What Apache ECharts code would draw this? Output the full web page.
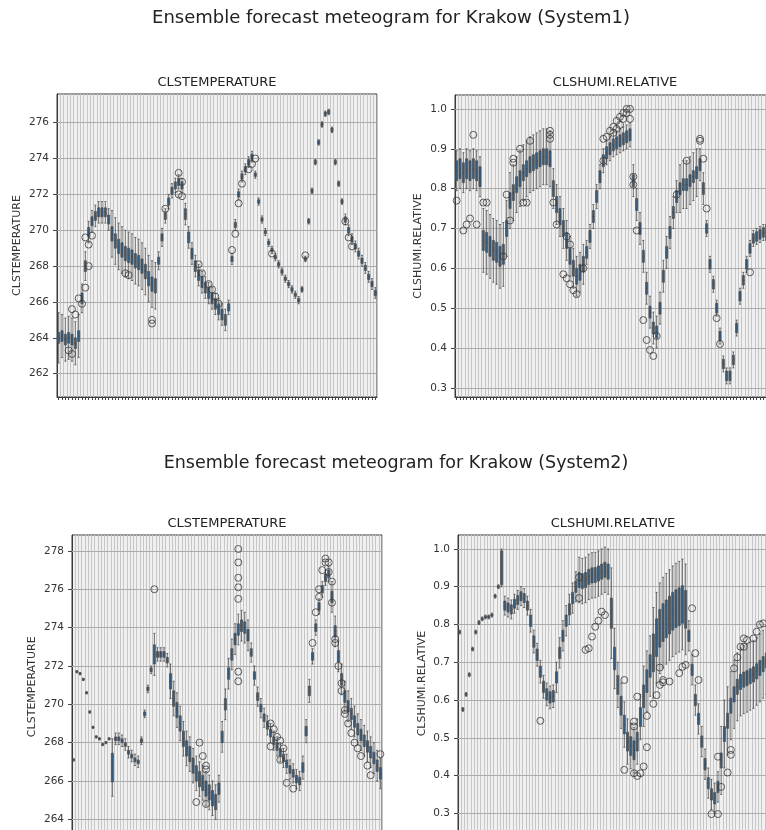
<!DOCTYPE html>
<html>
<head>
<meta charset="utf-8">
<title>Ensemble forecast meteogram for Krakow</title>
<script src="https://cdn.jsdelivr.net/npm/echarts@6/dist/echarts.min.js"></script>
<style>
  html, body { margin: 0; padding: 0; overflow: hidden; background: #fff; }
  #main { width: 800px; height: 870px; }
</style>
</head>
<body>
<div id="main"></div>
<script>
// forecast steps (x categories, labels are not drawn)
var steps = [];
for (var s = 0; s < 96; s++) { steps.push('+' + s); }

var tempTicks1 = [262, 264, 266, 268, 270, 272, 274, 276];
var tempTicks2 = [264, 266, 268, 270, 272, 274, 276, 278];
var humiTicks = [0.3, 0.4, 0.5, 0.6, 0.7, 0.8, 0.9, 1.0];

// System1 - temperature: median, half box height, half whisker range
var t1Med = [264.0,264.1,263.9,264.0,263.9,263.7,264.1,266.2,268.0,269.9,
  270.5,270.8,271.0,271.0,271.0,270.6,269.8,269.4,269.1,268.9,
  268.7,268.6,268.5,268.3,268.2,268.0,267.7,267.3,267.0,266.9,
  268.3,269.6,270.8,271.6,272.2,272.5,272.7,272.5,270.9,269.6,
  268.7,268.0,267.5,267.1,266.8,266.5,266.2,265.9,265.6,265.3,
  265.0,265.7,268.4,270.3,272.0,273.0,273.4,273.8,274.1,273.1,
  271.6,270.6,269.9,269.3,268.9,268.5,268.1,267.7,267.3,267.0,
  266.7,266.4,266.1,266.7,268.4,270.5,272.2,273.8,274.9,275.9,
  276.5,276.6,275.6,273.8,272.6,271.6,270.6,270.0,269.5,269.1,
  268.7,268.3,267.9,267.4,267.0,266.5];
var t1Box = [0.3,0.3,0.3,0.3,0.3,0.3,0.3,0.3,0.3,0.25,
  0.25,0.25,0.25,0.25,0.25,0.25,0.4,0.4,0.4,0.4,
  0.4,0.4,0.4,0.4,0.4,0.4,0.4,0.4,0.4,0.4,
  0.2,0.2,0.2,0.2,0.2,0.2,0.2,0.2,0.3,0.3,
  0.3,0.3,0.3,0.3,0.3,0.3,0.3,0.3,0.3,0.3,
  0.3,0.2,0.15,0.15,0.15,0.15,0.15,0.15,0.15,0.1,
  0.1,0.1,0.1,0.1,0.1,0.1,0.1,0.1,0.1,0.1,
  0.1,0.1,0.1,0.1,0.1,0.1,0.1,0.1,0.1,0.1,
  0.1,0.1,0.1,0.1,0.1,0.1,0.15,0.15,0.15,0.15,
  0.15,0.15,0.15,0.15,0.15,0.15];
var t1Whisk = [1.4,1.2,1.2,1.2,1.2,1.2,1.2,0.8,0.8,0.6,
  0.6,0.6,0.6,0.6,0.6,0.6,1.3,1.3,1.3,1.3,
  1.3,1.3,1.3,1.3,1.3,1.3,1.3,1.3,1.3,1.3,
  0.5,0.5,0.4,0.4,0.4,0.4,0.4,0.4,0.6,0.6,
  0.6,0.6,0.6,0.6,0.6,0.6,0.6,0.6,0.6,0.6,
  0.6,0.4,0.3,0.3,0.3,0.3,0.3,0.3,0.3,0.2,
  0.2,0.2,0.2,0.2,0.2,0.2,0.2,0.2,0.2,0.2,
  0.2,0.2,0.2,0.15,0.15,0.15,0.15,0.15,0.15,0.15,
  0.15,0.15,0.15,0.15,0.15,0.15,0.3,0.3,0.3,0.3,
  0.3,0.3,0.3,0.3,0.3,0.3];
var t1Out = [[3,263.3],[4,263.1],[4,265.6],[5,265.3],[6,266.2],[7,265.9],[8,269.6],[8,266.8],
  [9,268.0],[9,269.2],[10,269.7],[20,267.6],[21,267.5],[28,265.0],[28,264.8],[32,271.2],
  [36,273.2],[36,272.0],[37,271.9],[37,272.7],[42,268.1],[43,267.6],[45,267.0],[46,266.7],
  [47,266.3],[48,265.9],[52,268.9],[53,269.8],[54,271.5],[55,272.6],[57,273.4],[58,273.7],
  [59,274.0],[64,268.7],[74,268.6],[86,270.5],[87,269.6],[88,269.1]];

// System1 - relative humidity
var h1Med = [0.845,0.85,0.84,0.85,0.845,0.85,0.845,0.83,0.67,0.665,
  0.655,0.645,0.64,0.63,0.635,0.70,0.77,0.79,0.81,0.825,
  0.84,0.85,0.86,0.865,0.87,0.875,0.88,0.88,0.875,0.80,
  0.76,0.73,0.70,0.67,0.63,0.60,0.58,0.59,0.61,0.64,
  0.68,0.73,0.78,0.83,0.87,0.89,0.90,0.91,0.915,0.92,
  0.925,0.93,0.935,0.82,0.76,0.70,0.63,0.55,0.49,0.45,
  0.44,0.50,0.58,0.64,0.69,0.74,0.78,0.80,0.81,0.81,
  0.82,0.83,0.84,0.86,0.80,0.70,0.61,0.56,0.50,0.43,
  0.36,0.33,0.33,0.37,0.45,0.53,0.57,0.61,0.65,0.675,
  0.68,0.685,0.69,0.69,0.695,0.70];
var h1Box = [0.025,0.025,0.025,0.025,0.025,0.025,0.025,0.025,0.025,0.025,
  0.025,0.025,0.025,0.025,0.025,0.02,0.02,0.02,0.02,0.02,
  0.02,0.02,0.02,0.02,0.02,0.02,0.02,0.02,0.02,0.02,
  0.02,0.02,0.02,0.02,0.02,0.02,0.02,0.02,0.02,0.015,
  0.015,0.015,0.015,0.015,0.015,0.015,0.015,0.015,0.015,0.015,
  0.015,0.015,0.015,0.015,0.015,0.015,0.015,0.015,0.015,0.015,
  0.015,0.015,0.015,0.015,0.015,0.015,0.015,0.015,0.015,0.015,
  0.015,0.015,0.015,0.015,0.015,0.012,0.012,0.012,0.012,0.012,
  0.012,0.012,0.012,0.012,0.012,0.012,0.012,0.012,0.012,0.012,
  0.012,0.012,0.012,0.02,0.02,0.02];
var h1Whisk = [0.05,0.05,0.05,0.05,0.05,0.05,0.05,0.05,0.08,0.08,
  0.08,0.08,0.08,0.08,0.08,0.07,0.07,0.07,0.07,0.07,
  0.07,0.07,0.07,0.07,0.07,0.07,0.07,0.07,0.07,0.05,
  0.05,0.05,0.05,0.05,0.05,0.05,0.05,0.05,0.05,0.03,
  0.03,0.03,0.03,0.03,0.03,0.03,0.03,0.03,0.03,0.03,
  0.03,0.03,0.03,0.04,0.04,0.04,0.04,0.04,0.04,0.04,
  0.04,0.04,0.04,0.04,0.04,0.04,0.04,0.06,0.06,0.06,
  0.06,0.06,0.06,0.04,0.04,0.02,0.02,0.02,0.02,0.02,
  0.02,0.02,0.02,0.02,0.02,0.02,0.02,0.02,0.02,0.02,
  0.02,0.02,0.02,0.02,0.02,0.02];
var h1Out = [[0,0.77],[2,0.695],[3,0.71],[4,0.725],[5,0.935],[6,0.71],[8,0.765],[9,0.765],
  [14,0.63],[15,0.785],[16,0.72],[17,0.865],[17,0.875],[19,0.90],[20,0.765],[21,0.765],
  [22,0.92],[28,0.945],[28,0.935],[28,0.925],[29,0.765],[30,0.71],[32,0.585],[33,0.68],
  [33,0.575],[34,0.66],[34,0.56],[35,0.545],[36,0.535],[38,0.60],[44,0.925],[44,0.87],
  [45,0.93],[46,0.945],[47,0.955],[48,0.97],[49,0.98],[50,0.99],[51,1.0],[52,1.0],
  [47,0.94],[48,0.95],[49,0.96],[50,0.975],[51,0.99],[52,0.975],[53,0.83],[53,0.81],
  [54,0.695],[56,0.47],[57,0.42],[58,0.395],[59,0.38],[60,0.43],[66,0.785],[69,0.87],
  [73,0.925],[73,0.92],[74,0.875],[75,0.75],[78,0.475],[79,0.41],[88,0.59]];

// System2 - temperature
var t2Med = [267.1,271.7,271.6,271.3,270.6,269.6,268.8,268.3,268.2,267.9,
  268.0,268.2,266.7,268.2,268.2,268.1,267.9,267.5,267.3,267.1,
  267.0,268.1,269.5,270.8,271.8,272.6,272.6,272.6,272.6,272.3,
  271.2,270.3,269.7,269.0,268.2,267.7,267.4,266.8,266.4,266.1,
  265.9,265.6,265.4,265.1,264.9,265.6,268.3,270.0,271.6,272.6,
  273.4,273.9,274.1,274.0,273.6,272.7,271.5,270.4,269.8,269.3,
  268.9,268.5,268.1,267.8,267.5,267.2,266.9,266.6,266.4,266.1,
  266.0,266.7,268.6,270.7,272.5,274.0,275.1,276.0,276.6,276.8,
  275.6,273.8,272.5,271.3,270.4,269.9,269.5,269.1,268.7,268.4,
  268.1,267.8,267.5,267.2,266.8,266.4];
var t2Box = [0.04,0.04,0.04,0.04,0.04,0.04,0.04,0.04,0.04,0.04,
  0.04,0.04,0.75,0.1,0.1,0.1,0.1,0.1,0.1,0.1,
  0.1,0.1,0.1,0.1,0.1,0.5,0.15,0.15,0.15,0.15,
  0.4,0.4,0.4,0.4,0.4,0.4,0.4,0.4,0.4,0.4,
  0.4,0.4,0.4,0.4,0.4,0.3,0.3,0.3,0.3,0.3,
  0.3,0.3,0.3,0.3,0.3,0.2,0.2,0.2,0.2,0.2,
  0.2,0.2,0.2,0.2,0.2,0.2,0.2,0.2,0.2,0.2,
  0.2,0.25,0.25,0.25,0.2,0.2,0.2,0.2,0.2,0.2,
  0.3,0.3,0.3,0.3,0.3,0.3,0.3,0.3,0.3,0.3,
  0.3,0.3,0.3,0.3,0.3,0.3];
var t2Whisk = [0.06,0.06,0.06,0.06,0.06,0.06,0.06,0.06,0.06,0.06,
  0.06,0.06,1.5,0.3,0.3,0.3,0.3,0.3,0.3,0.3,
  0.3,0.2,0.2,0.2,0.2,1.1,0.35,0.35,0.35,0.35,
  0.9,0.9,0.9,0.9,0.9,0.9,0.9,0.9,0.9,0.9,
  0.9,0.9,0.9,0.9,0.9,0.7,0.8,0.8,0.8,0.8,
  0.8,0.8,0.8,0.8,0.8,0.5,0.5,0.5,0.5,0.5,
  0.5,0.5,0.5,0.5,0.5,0.5,0.5,0.5,0.5,0.5,
  0.5,0.6,0.6,0.6,0.4,0.4,0.4,0.4,0.4,0.4,
  0.8,0.8,0.8,0.8,0.8,0.8,0.8,0.8,0.8,0.8,
  0.8,0.8,0.8,0.8,0.8,0.8];
var t2Out = [[25,276.0],[38,264.9],[39,268.0],[40,267.3],[41,266.8],[41,266.6],[41,264.8],
  [51,278.1],[51,277.4],[51,276.6],[51,276.1],[51,275.5],[51,271.7],[51,271.2],
  [61,269.0],[61,267.8],[62,268.7],[63,268.3],[64,268.1],[64,267.1],[65,267.7],[66,265.9],
  [68,265.6],[74,273.2],[75,274.8],[76,275.6],[76,276.0],[77,277.0],[78,277.4],[78,277.6],
  [79,277.4],[79,276.9],[80,276.4],[80,275.3],[81,273.4],[81,273.2],[82,272.0],[83,271.1],
  [83,270.7],[84,269.7],[84,269.5],[85,269.0],[86,268.5],[87,268.0],[88,267.7],[89,267.3],
  [91,266.8],[92,266.3],[95,267.4]];

// System2 - relative humidity
var h2Med = [0.78,0.575,0.615,0.667,0.735,0.78,0.805,0.815,0.82,0.82,
  0.825,0.875,0.90,0.95,0.85,0.845,0.84,0.855,0.865,0.875,
  0.87,0.85,0.81,0.755,0.72,0.675,0.635,0.615,0.607,0.61,
  0.66,0.725,0.77,0.81,0.84,0.87,0.90,0.918,0.915,0.918,
  0.926,0.93,0.931,0.935,0.94,0.945,0.94,0.83,0.71,0.64,
  0.585,0.535,0.49,0.478,0.467,0.49,0.555,0.61,0.65,0.69,
  0.725,0.765,0.79,0.805,0.815,0.825,0.835,0.842,0.847,0.853,
  0.84,0.77,0.68,0.60,0.55,0.49,0.43,0.38,0.35,0.34,
  0.37,0.44,0.51,0.545,0.585,0.615,0.635,0.648,0.654,0.658,
  0.663,0.668,0.676,0.685,0.695,0.705];
var h2Box = [0.003,0.003,0.003,0.003,0.003,0.003,0.003,0.003,0.003,0.003,
  0.003,0.003,0.003,0.045,0.012,0.012,0.012,0.012,0.012,0.012,
  0.012,0.012,0.015,0.015,0.015,0.015,0.015,0.015,0.015,0.015,
  0.015,0.015,0.015,0.015,0.015,0.015,0.015,0.02,0.02,0.02,
  0.02,0.02,0.02,0.02,0.02,0.02,0.02,0.04,0.03,0.025,
  0.025,0.025,0.025,0.025,0.025,0.025,0.025,0.03,0.03,0.03,
  0.05,0.05,0.05,0.05,0.05,0.05,0.05,0.05,0.05,0.05,
  0.05,0.015,0.015,0.015,0.015,0.015,0.015,0.015,0.015,0.015,
  0.015,0.02,0.02,0.02,0.02,0.02,0.02,0.02,0.02,0.02,
  0.02,0.02,0.02,0.02,0.02,0.02];
var h2Whisk = [0.005,0.005,0.005,0.005,0.005,0.005,0.005,0.005,0.005,0.005,
  0.005,0.005,0.005,0.05,0.025,0.025,0.025,0.025,0.025,0.025,
  0.025,0.025,0.03,0.03,0.03,0.03,0.03,0.03,0.03,0.03,
  0.04,0.04,0.04,0.04,0.04,0.04,0.04,0.06,0.06,0.06,
  0.06,0.06,0.06,0.06,0.06,0.06,0.06,0.12,0.08,0.06,
  0.06,0.06,0.06,0.06,0.06,0.06,0.06,0.08,0.08,0.08,
  0.12,0.12,0.12,0.12,0.12,0.12,0.12,0.12,0.12,0.12,
  0.12,0.04,0.04,0.04,0.04,0.04,0.04,0.04,0.04,0.04,
  0.04,0.09,0.09,0.09,0.09,0.09,0.09,0.09,0.09,0.09,
  0.09,0.09,0.09,0.09,0.09,0.09];
var h2Out = [[25,0.545],[37,0.925],[37,0.87],[39,0.733],[40,0.737],[41,0.768],[42,0.794],
  [43,0.81],[44,0.834],[45,0.825],[51,0.653],[51,0.415],[54,0.53],[54,0.543],[54,0.406],
  [55,0.399],[56,0.406],[57,0.424],[58,0.475],[55,0.609],[58,0.558],[60,0.59],[61,0.613],
  [62,0.64],[63,0.647],[63,0.653],[62,0.686],[65,0.649],[68,0.671],[69,0.688],[70,0.693],
  [72,0.843],[73,0.724],[74,0.653],[78,0.298],[80,0.298],[80,0.45],[81,0.37],[83,0.408],
  [84,0.468],[84,0.455],[85,0.684],[86,0.713],[87,0.741],[88,0.763],[88,0.741],[89,0.759],
  [91,0.763],[92,0.781],[93,0.8],[94,0.803]];

function boxes(med, box, whisk) {
  return med.map(function (m, i) {
    return [m - whisk[i], m - box[i], m, m + box[i], m + whisk[i]];
  });
}

var panels = [
  { rect: { left: 57, top: 94, width: 320, height: 303 }, min: 260.7, max: 277.6,
    name: 'CLSTEMPERATURE', nameGap: 34, ticks: tempTicks1, digits: 0,
    data: boxes(t1Med, t1Box, t1Whisk), out: t1Out },
  { rect: { left: 455, top: 95, width: 320, height: 302 }, min: 0.277, max: 1.035,
    name: 'CLSHUMI.RELATIVE', nameGap: 31, ticks: humiTicks, digits: 1,
    data: boxes(h1Med, h1Box, h1Whisk), out: h1Out },
  { rect: { left: 72, top: 535, width: 310, height: 303.5 }, min: 263.0, max: 278.83,
    name: 'CLSTEMPERATURE', nameGap: 34, ticks: tempTicks2, digits: 0,
    data: boxes(t2Med, t2Box, t2Whisk), out: t2Out },
  { rect: { left: 458, top: 535, width: 310, height: 297.2 }, min: 0.25, max: 1.037,
    name: 'CLSHUMI.RELATIVE', nameGap: 30, ticks: humiTicks, digits: 1,
    data: boxes(h2Med, h2Box, h2Whisk), out: h2Out }
];

var titleFont = { fontFamily: 'DejaVu Sans', fontWeight: 'normal', color: '#222' };
function title(text, x, y, size) {
  return { text: text, left: x, top: y, textAlign: 'center', padding: 0,
    textStyle: Object.assign({ fontSize: size }, titleFont) };
}

var option = {
  animation: false,
  textStyle: { fontFamily: 'DejaVu Sans' },
  title: [
    title('Ensemble forecast meteogram for Krakow (System1)', 391, 9, 18),
    title('CLSTEMPERATURE', 217, 76, 13),
    title('CLSHUMI.RELATIVE', 615, 76, 13),
    title('Ensemble forecast meteogram for Krakow (System2)', 396, 454, 17.5),
    title('CLSTEMPERATURE', 227, 517, 13),
    title('CLSHUMI.RELATIVE', 613, 517, 13)
  ],
  grid: [],
  xAxis: [],
  yAxis: [],
  series: []
};

panels.forEach(function (p, k) {
  option.grid.push(Object.assign({
    show: true, backgroundColor: '#f0f0f0', borderColor: '#3a3a3a', borderWidth: 1
  }, p.rect));
  option.xAxis.push({
    type: 'category', gridIndex: k, data: steps, boundaryGap: true,
    axisLine: { show: true, onZero: false, lineStyle: { color: '#3a3a3a' } },
    axisTick: { show: true, interval: 0, alignWithLabel: true, length: 3, lineStyle: { color: '#444' } },
    axisLabel: { show: false },
    splitLine: { show: true, interval: 0, lineStyle: { color: '#c6c6c6', width: 1 } }
  });
  option.yAxis.push({
    type: 'value', gridIndex: k, min: p.min, max: p.max,
    name: p.name, nameLocation: 'middle', nameGap: p.nameGap,
    nameTextStyle: { fontSize: 11, color: '#333' },
    axisLine: { show: true, lineStyle: { color: '#3a3a3a' } },
    axisTick: { show: true, customValues: p.ticks, length: 4, lineStyle: { color: '#444' } },
    axisLabel: {
      customValues: p.ticks, fontSize: 10.5, color: '#333', margin: 8,
      formatter: function (v) { return v.toFixed(p.digits); }
    },
    splitLine: { show: false }
  });
  option.series.push({
    type: 'boxplot', xAxisIndex: k, yAxisIndex: k, data: p.data, z: 3,
    boxWidth: [2, 3],
    itemStyle: { color: '#2f5e88', borderColor: '#4c4c4c', borderWidth: 0.8 },
    emphasis: { disabled: true },
    markLine: {
      silent: true, symbol: 'none', z: 1,
      label: { show: false },
      lineStyle: { color: '#ababab', width: 1, type: 'solid' },
      emphasis: { disabled: true },
      data: p.ticks.map(function (v) { return { yAxis: v }; })
    }
  });
  option.series.push({
    type: 'scatter', xAxisIndex: k, yAxisIndex: k, data: p.out, z: 4,
    symbol: 'circle', symbolSize: 7,
    itemStyle: { color: 'rgba(255,255,255,0)', borderColor: '#3a3a3a', borderWidth: 1 },
    emphasis: { disabled: true }
  });
});

var myChart = echarts.init(document.getElementById('main'));
myChart.setOption(option);
</script>
</body>
</html>
